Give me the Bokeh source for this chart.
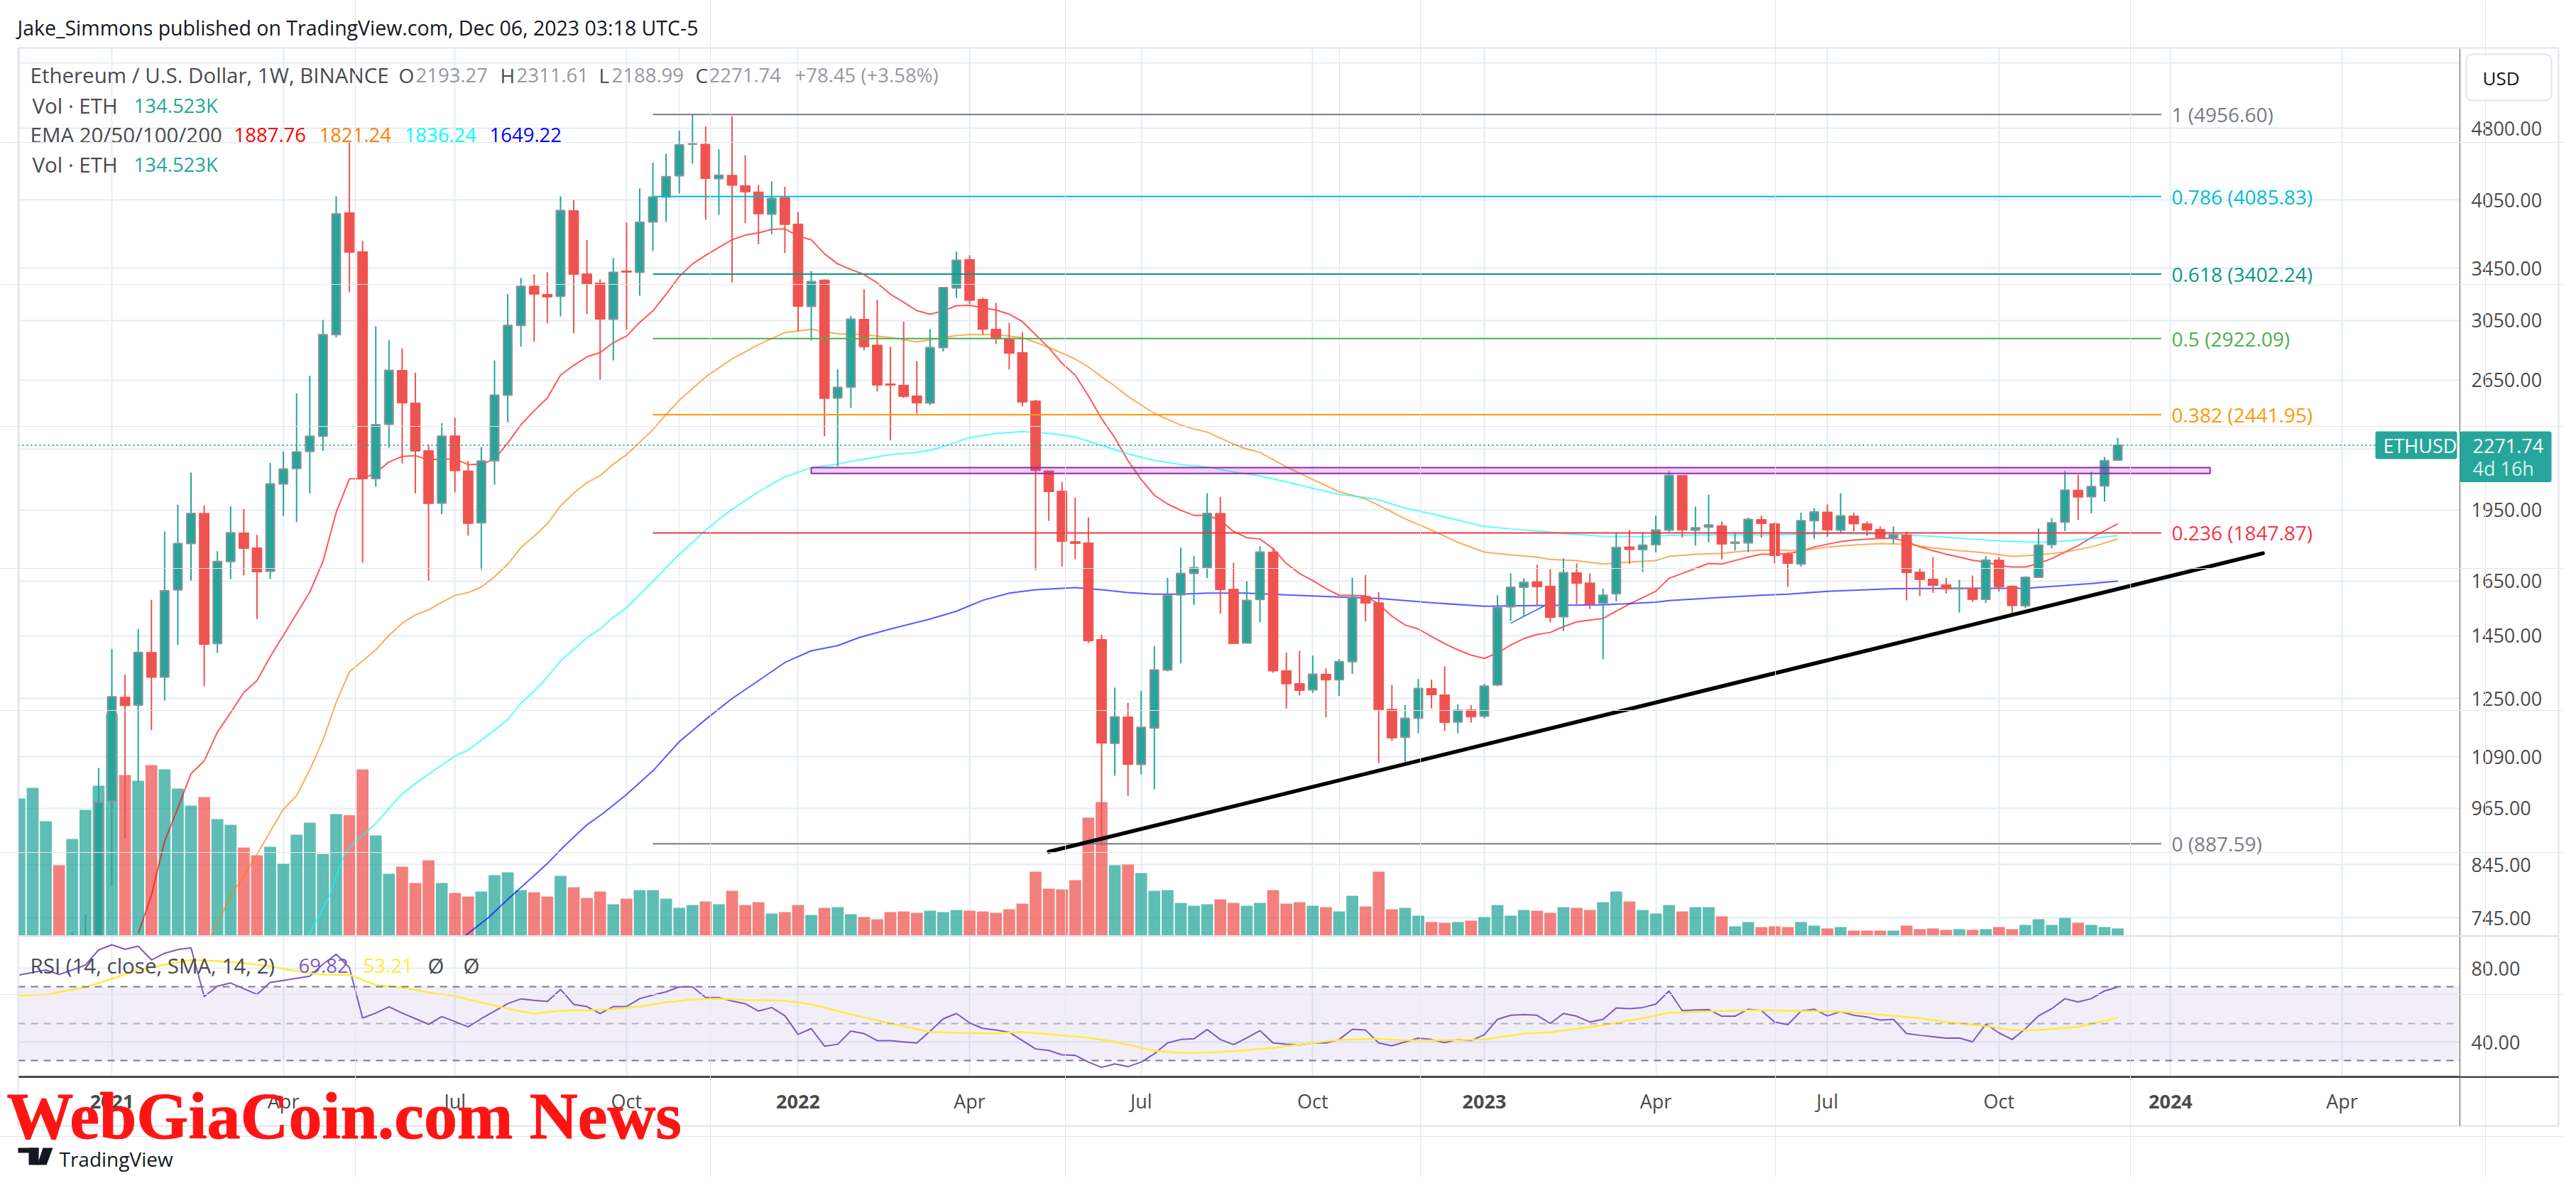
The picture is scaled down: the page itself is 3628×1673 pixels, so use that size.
from math import exp
from bokeh.plotting import figure
from bokeh.layouts import column
from bokeh.embed import file_html
from bokeh.resources import INLINE
from bokeh.models import (BoxAnnotation, ColumnDataSource, FixedTicker, Grid, Label, LinearScale,
                          NumeralTickFormatter, PolyAnnotation, Range1d, Span)

opens = [560,590,615,650,610,690,705,982,1254,1231,
 1394,1315,1615,1802,1935,1423,1727,1848,1784,1688,
 2074,2151,2239,2321,2949,3932,3587,2100,2387,2711,
 2510,2243,1982,2323,2139,1892,2191,2557,3014,3307,
 3244,3229,3952,3404,3332,3059,3428,3417,3848,4080,
 4290,4622,4622,4262,4295,4192,4130,3919,4073,3829,
 3153,3355,2540,2606,3059,2878,2626,2618,2553,2510,
 2860,3293,3521,3206,2988,2924,2827,2522,2139,2039,
 1810,1805,1437,1125,1197,1070,1166,1337,1596,1679,
 1702,1935,1618,1425,1579,1766,1335,1295,1276,1324,
 1307,1364,1591,1567,1219,1141,1193,1280,1261,1183,
 1217,1199,1291,1552,1625,1647,1630,1516,1682,1642,
 1565,1601,1788,1776,1797,1860,2116,1860,1873,1879,
 1803,1805,1907,1888,1757,1717,1902,1941,1860,1923,
 1888,1863,1827,1839,1685,1657,1635,1619,1622,1580,
 1733,1630,1556,1664,1797,1895,2044,2012,2064,2193.27]
highs = [630,640,675,680,720,751,1061,1405,1322,1473,
 1578,1854,1975,2130,1972,1770,1967,1955,1839,2180,
 2239,2568,2677,3054,4087,4642,3679,3008,2911,2855,
 2696,2275,2394,2424,2188,2263,2775,3244,3372,3400,
 3417,4087,4052,3688,3361,3533,3841,4164,4425,4519,
 4769,4952,4820,4565,4937,4504,4198,4233,4180,3939,
 3427,3360,2718,3082,3283,3202,2866,3041,2771,2988,
 3299,3587,3556,3217,3179,3033,2967,2529,2139,2084,
 2009,1916,1452,1283,1238,1273,1415,1662,1785,1750,
 2029,2012,1722,1648,1790,1785,1394,1399,1383,1342,
 1371,1662,1673,1607,1291,1231,1309,1307,1349,1233,
 1231,1294,1595,1679,1660,1714,1696,1739,1719,1679,
 1620,1848,1860,1848,1925,2137,2118,1966,2022,1898,
 1848,1916,1925,1893,1765,1938,1959,1976,2029,1938,
 1898,1876,1876,1854,1699,1745,1662,1654,1671,1750,
 1745,1632,1668,1867,1913,2137,2118,2134,2210,2311.61]
lows = [540,565,600,570,590,660,690,804,899,1026,
 1160,1244,1419,1651,1287,1392,1657,1671,1508,1657,
 1923,1895,2029,2243,2929,3260,1722,2060,2260,2177,
 2029,1651,1931,2033,1836,1693,2070,2399,2867,2899,
 3029,3079,2958,3095,2653,2775,2983,3233,3593,3848,
 4115,4415,3867,3913,3337,3838,3650,3738,3575,2972,
 2909,2321,2162,2480,2841,2579,2299,2540,2449,2498,
 2835,3217,3169,2949,2885,2716,2490,1693,1901,1707,
 1737,1425,884,1042,994,1045,1009,1333,1358,1559,
 1661,1527,1423,1425,1496,1328,1221,1259,1267,1195,
 1258,1325,1500,1074,1131,1077,1152,1221,1158,1152,
 1181,1193,1287,1501,1518,1557,1496,1466,1557,1544,
 1372,1572,1717,1685,1765,1851,1827,1793,1807,1736,
 1772,1765,1827,1719,1627,1706,1821,1831,1848,1854,
 1834,1821,1802,1576,1592,1604,1601,1531,1570,1566,
 1609,1526,1547,1661,1781,1856,1905,1935,1989,2188.99]
closes = [590,615,650,610,690,705,979,1255,1229,1394,
 1314,1612,1802,1935,1420,1727,1848,1781,1685,2074,
 2148,2236,2321,2949,3921,3581,2099,2385,2711,2510,
 2241,1980,2321,2139,1889,2189,2557,3014,3305,3244,
 3223,3952,3400,3326,3059,3417,3417,3845,4080,4282,
 4614,4626,4262,4295,4194,4130,3921,4067,3824,3153,
 3343,2537,2604,3059,2866,2618,2618,2549,2510,2860,
 3296,3515,3197,2986,2919,2822,2515,2140,2036,1810,
 1802,1432,1125,1197,1070,1168,1337,1595,1679,1702,
 1935,1616,1423,1576,1766,1334,1294,1274,1324,1306,
 1364,1588,1565,1218,1139,1193,1280,1261,1181,1216,
 1197,1287,1549,1625,1644,1627,1513,1682,1640,1562,
 1595,1785,1776,1795,1860,2116,1860,1870,1883,1799,
 1808,1907,1888,1751,1719,1902,1941,1860,1923,1887,
 1860,1827,1839,1682,1655,1632,1618,1621,1579,1733,
 1627,1556,1664,1795,1892,2044,2010,2061,2191,2271.74]
volumes_k = [2596,2798,2165,1332,1829,2381,2838,4196,3040,2932,
 3228,3147,2784,2461,2623,2206,2098,1668,1520,1681,
 1358,1910,2139,1547,2300,2280,3147,1896,1170,1305,
 995,1426,995,807,740,834,1143,1197,861,820,
 740,1130,915,713,834,592,699,861,861,699,
 525,578,646,592,847,578,632,417,444,578,
 390,525,538,404,350,309,444,457,430,471,
 444,484,471,457,430,498,605,1211,888,874,
 1049,2233,2529,1332,1345,1184,847,861,619,565,
 592,686,619,565,619,861,605,632,565,538,
 457,753,551,1211,498,525,377,256,242,256,
 282,350,578,377,484,471,430,538,525,484,
 632,834,646,484,417,578,457,538,538,363,
 175,256,161,175,161,256,188,135,161,94,
 94,94,94,188,121,135,108,121,108,121,
 161,121,202,309,202,336,242,202,161,134.523]

ema20_x = list(range(9, 160))
ema20 = [718,786,893,965,1047,1079,1155,1209,1268,1304,1380,1451,1527,1607,1727,1939,2099,2099,2130,2184,
 2213,2217,2195,2199,2199,2171,2173,2199,2284,2385,2464,2540,2681,2743,2799,2827,2894,2939,3036,3119,
 3244,3383,3485,3556,3623,3689,3730,3749,3781,3785,3722,3689,3569,3485,3440,3399,3332,3244,3184,3121,
 3095,3119,3158,3160,3142,3126,3095,3041,2949,2860,2757,2681,2553,2419,2313,2191,2096,2019,1978,1949,
 1926,1926,1904,1854,1827,1821,1780,1719,1679,1651,1620,1595,1595,1592,1562,1518,1487,1473,1447,1423,
 1402,1385,1374,1392,1418,1440,1454,1461,1481,1498,1504,1510,1536,1562,1586,1610,1660,1679,1699,1719,
 1717,1731,1745,1757,1757,1760,1769,1787,1799,1810,1817,1821,1824,1824,1810,1788,1772,1757,1745,1732,
 1725,1711,1705,1705,1719,1739,1766,1793,1827,1857,1887.76]
ema50_x = [14.5,15,16,17,18,19,20,21,22,23,24,25,26,27,28,29,30,31,32,33,34,35,36,37,38,39,40,41,42,43,44,45,46,47,48,49,50,
 52,54,56,58,60,62,64,66,68,71,72,74,76,78,80,81,82,83,84,86,88,89,90,92,93,94,96,98,100,102,103,105,107,109,111,113,115,116,118,120,122,124,125,127,129,131,133,135,137,139,141,143,145,147,149,151,153,155,157,159]
ema50 = [714,735,785,822,865,913,963,994,1057,1133,1239,1331,1366,1402,1451,1493,1523,1541,1569,1594,1605,1626,1666,1716,1785,1833,1888,1969,2029,2080,2115,2173,2222,2288,2357,2443,2526,
 2670,2785,2880,2964,2987,2956,2950,2929,2899,2943,2950,2950,2929,2862,2785,2733,2670,2613,2549,2449,2383,2361,2344,2278,2252,2234,2159,2096,2036,2002,1972,1910,1860,1807,1766,1754,1745,1736,1731,1717,1725,1731,1748,1757,1761,1772,1775,1772,1787,1796,1802,1799,1784,1772,1763,1748,1754,1766,1787,1821.24]
ema100_x = [21.9,23.5,24.5,25,27,28.85,30,31,33,34,35,36,37,38,39,40,41,42,43,44,45,46,47,48,49,50,51,52,53,54,56,58,60,62,64,66,68,69,70,72,74,76,78,80,82,84,86,88,90,92,94,96,98,100,102,103,105,107,109,111,113,115,117,120,123,125,128,133,137,141,143,145,148,151,153,155,157,159]
ema100 = [714,785,857,880,931,994,1023,1046,1091,1107,1133,1160,1190,1236,1272,1315,1366,1404,1443,1473,1514,1549,1598,1648,1702,1757,1807,1860,1907,1953,2036,2109,2155,2173,2199,2222,2234,2245,2265,2313,2336,2347,2337,2317,2271,2226,2193,2171,2159,2134,2113,2084,2052,2023,2009,1997,1959,1933,1904,1876,1865,1856,1845,1833,1831,1837,1839,1839,1845,1842,1839,1833,1821,1810,1807,1812,1824,1836.24]
ema200_x = [33.75,35.5,36.9,38.6,40,41.3,43,44.2,45.9,48,50,52,54,56,58,60,62,63.6,66,69,71,73,75,77,80,82,84,86,88,90,93,96,100,103,107,111,115,120,124,125,128.8,132,134,137,142,147,152,155,157,159]
ema200 = [714,745,776,814,847,883,928,953,994,1054,1129,1190,1250,1304,1361,1399,1416,1443,1473,1508,1536,1576,1603,1616,1624,1616,1605,1599,1599,1603,1603,1596,1588,1583,1567,1554,1557,1559,1569,1575,1586,1595,1599,1610,1620,1621,1621,1632,1640,1649.22]

rsi = [76.35,77.7,79.05,76.6,79.05,81.75,89.9,92.7,90.3,91.9,84.5,88.1,90.1,91.1,64.6,70.3,72,68.9,65.8,72.3,
 73.4,74.5,75.7,82.2,87.6,80.4,53,55.7,59.1,55.7,52.7,49.6,53.8,51.1,48.2,52.7,56.8,60.8,63.4,62.6,
 62,68.5,60.4,59.2,55.4,59.2,59.2,63.5,65.5,67.2,69.9,69.9,64.1,64.1,62.2,60.8,56.8,58.7,54.3,44.2,
 47.3,37.8,38.8,46,44.6,40.8,40.8,40.1,39.5,45.9,52.6,55.5,50.4,47.4,46.5,45.3,40.8,36.3,35.5,33.1,
 32.8,29.2,26.3,28.2,26.7,29.2,33.7,39.5,41.4,41.8,46.8,41.4,38.6,42.3,46.2,39.5,38.8,38.5,39.5,39.5,
 41.4,46.9,46.5,39.5,38,40.1,42.1,41.4,39.7,41.4,40.8,44,52.3,54.5,54.9,54.5,50.1,55.5,54,50.9,
 52.3,58.5,58.1,58.7,60.6,67.7,57,57.4,57.6,54,54,57.8,57,50.9,49.4,56.8,57.8,54.2,56.5,54.5,
 53.6,51.9,52.3,44.6,43.7,42.9,42.1,42.2,40.1,49.7,45,41.4,47.2,54.2,58.1,63.5,61.7,63.5,67.7,69.82]
rsi_sma_x = [0,2,5,7,9,11,13,15,17,19,21,23,25,27,29,31,33,35,37,39,41,43,45,47,49,51,53,55,58,60,62,63.6,65,67,69,71,74,76,78,81,83,84,86,88,89,92,95,98,100,103,105,108,111,114,116,118,120,123,125,129,132,135,138,141,144,146,149,151,153,156,159]
rsi_sma = [65.1,65.8,69.6,74.3,79.1,81.8,84.5,83.8,82.8,81.1,78.4,76.5,76.4,70.9,69.6,66.9,64.9,61.5,58.1,55.4,57,57.2,57.8,59.2,61.5,63.1,63.5,62.8,62.4,60.5,56.8,54,51.7,48.5,45.5,45,44.7,45.5,44.2,42.4,40.1,38.6,35.3,34.1,34,35,36.9,39.5,41.2,41.8,41,41,41.4,44.6,45.3,47.2,49.1,52.9,55.9,56.8,57.3,56.8,56.5,54.9,52.9,50.9,48.7,46.5,46.5,48.2,53.21]

fib_levels = ["1", "0.786", "0.618", "0.5", "0.382", "0.236", "0"]
fib_prices = [4956.60, 4085.83, 3402.24, 2922.09, 2441.95, 1847.87, 887.59]
fib_colors = ["#787b86", "#00bcd4", "#089981", "#4caf50", "#ff9800", "#f23645", "#787b86"]
fib_x = [48, 162.3]
trend_x = [78, 170]
trend_y = [871, 1761]
short_x = [113, 115.8]
short_y = [1493, 1562]
zone_x = [60, 166]
zone_y = [2126, 2155]
last_close = 2271.74
price_ticks = [5600, 4800, 4050, 3450, 3050, 2650, 2250, 1950, 1650, 1450, 1250, 1090, 965, 845, 745]
time_ticks = [7, 20, 33, 46, 59, 72, 85, 98, 111, 124, 137, 150, 163, 176]
time_labels = ["2021", "Apr", "Jul", "Oct", "2022", "Apr", "Jul", "Oct", "2023", "Apr", "Jul", "Oct", "2024", "Apr"]

GREEN, RED = "#26a69a", "#ef5350"
GRID = "#e3edf3"
BORDER = "#e0e3eb"
FONT = "Open Sans"

# picture geometry (page pixels) -> data
STEP, X0 = 18.586, 26.9
def xd(px): return (px - X0) / STEP
def price(py): return 4800 * exp(-(py - 180) / 597)
def rv(py): return 80 - (py - 1363) / 2.6

W = 3612
p = figure(width=W, height=1318, x_range=Range1d(xd(25), xd(3464)),
           y_range=Range1d(price(1318), price(67)), y_axis_type="log", y_axis_location="right",
           x_axis_location=None, toolbar_location=None, output_backend="svg",
           min_border_top=67, min_border_left=25, min_border_right=W - 3464, min_border_bottom=0)
p.outline_line_color = None
p.background_fill_color = "white"
p.extra_y_ranges = {"vol": Range1d(-13.45, 1250 * 13.45)}
p.extra_y_scales = {"vol": LinearScale()}
ax = p.yaxis[0]
ax.ticker = FixedTicker(ticks=price_ticks)
ax.formatter = NumeralTickFormatter(format="0.00")
ax.major_label_overrides = {5600: "", 2250: ""}
ax.major_tick_line_color = None
ax.minor_tick_line_color = None
ax.axis_line_color = "#555555"
ax.major_label_text_font = FONT
ax.major_label_text_font_size = "27px"
ax.major_label_text_color = "#4a4a4a"
ax.major_label_standoff = 10
p.ygrid[0].grid_line_color = GRID
p.ygrid[0].grid_line_width = 2
p.add_layout(Grid(dimension=0, ticker=FixedTicker(ticks=time_ticks), grid_line_color=GRID, grid_line_width=2))

idx = list(range(len(closes)))
up = [c >= o for o, c in zip(opens, closes)]
def sub(cond):
    s = [i for i in idx if cond(i)]
    return ColumnDataSource(dict(x=s, o=[opens[i] for i in s], h=[highs[i] for i in s], l=[lows[i] for i in s],
                                 c=[closes[i] for i in s], v=[volumes_k[i] for i in s],
                                 t=[max(opens[i], closes[i]) for i in s], b=[min(opens[i], closes[i]) for i in s]))
su, sd = sub(lambda i: up[i]), sub(lambda i: not up[i])

p.vbar(x="x", top="v", bottom=0, width=0.9, source=su, fill_color=GREEN, fill_alpha=0.74, line_color=None, y_range_name="vol")
p.vbar(x="x", top="v", bottom=0, width=0.9, source=sd, fill_color=RED, fill_alpha=0.74, line_color=None, y_range_name="vol")

p.line(ema20_x, ema20, line_color="#ff0000", line_alpha=0.65, line_width=2)
p.line(ema50_x, ema50, line_color="#ff8000", line_alpha=0.65, line_width=2)
p.line(ema100_x, ema100, line_color="#00ffff", line_alpha=0.65, line_width=2)
p.line(ema200_x, ema200, line_color="#0000ff", line_alpha=0.65, line_width=2)
p.line(short_x, short_y, line_color="#2962ff", line_width=1.5)

p.segment(x0="x", x1="x", y0="l", y1="h", source=su, line_color=GREEN, line_width=2)
p.segment(x0="x", x1="x", y0="l", y1="h", source=sd, line_color=RED, line_width=2)
p.vbar(x="x", top="t", bottom="b", width=0.64, source=su, fill_color=GREEN, line_color="#8f9099", line_width=2)
p.vbar(x="x", top="t", bottom="b", width=0.74, source=sd, fill_color=RED, line_color=RED, line_width=1)

for lvl, pr, col in zip(fib_levels, fib_prices, fib_colors):
    p.line(fib_x, [pr, pr], line_color=col, line_width=2)
    p.add_layout(Label(x=xd(3058), y=pr, text=f"{lvl} ({pr:.2f})", text_color=col, text_font=FONT,
                       text_font_size="28px", text_baseline="middle"))

p.quad(left=zone_x[0], right=zone_x[1], bottom=zone_y[0], top=zone_y[1], fill_color="#9c27b0", fill_alpha=0.2,
       line_color="#9c27b0", line_width=2)
p.line(trend_x, trend_y, line_color="black", line_width=5.5, line_cap="round")
p.add_layout(Span(location=last_close, dimension="width", line_color=GREEN, line_dash="2 4", line_width=2))

def T(fig, txt, px, py, col, size=29.5, yf=price, bold=False, font=FONT, align="left"):
    fig.add_layout(Label(x=xd(px), y=yf(py), text=txt, text_color=col, text_font=font, text_font_size=f"{size}px",
                         text_baseline="middle", text_align=align, text_font_style="bold" if bold else "normal"))

DK, GY = "#4a4a4f", "#9598a1"
T(p, "Ethereum / U.S. Dollar, 1W, BINANCE", 42, 105, DK)
for txt, x, c, sz in [("O", 561, DK, 28), ("2193.27", 585, GY, 27.5), ("H", 704, DK, 28), ("2311.61", 727, GY, 27.5), ("L", 843, DK, 28),
                  ("2188.99", 861, GY, 27.5), ("C", 979, DK, 28), ("2271.74", 998, GY, 27.5), ("+78.45 (+3.58%)", 1119, GY, 27.5)]:
    T(p, txt, x, 105, c, sz)
T(p, "Vol · ETH", 45, 147.5, DK)
T(p, "134.523K", 188, 147.5, GREEN, 27.5)
T(p, "EMA 20/50/100/200", 42, 189, DK)
for txt, x, c in [("1887.76", 329, "#ff0000"), ("1821.24", 449, "#ff8000"), ("1836.24", 569, "#00ffff"), ("1649.22", 689, "#0000ff")]:
    T(p, txt, x, 189, c, 27.5)
T(p, "Vol · ETH", 45, 231, DK)
T(p, "134.523K", 188, 231, GREEN, 27.5)

# RSI pane with the time axis under it
q = figure(width=W, height=1657 - 1318, x_range=p.x_range, y_range=Range1d(rv(1516), rv(1318)), y_axis_location="right",
           toolbar_location=None, output_backend="svg", min_border_top=0, min_border_left=25, min_border_right=W - 3464,
           min_border_bottom=1657 - 1516)
q.outline_line_color = None
ay = q.yaxis[0]
ay.ticker = FixedTicker(ticks=[40, 80])
ay.formatter = NumeralTickFormatter(format="0.00")
ay.major_tick_line_color = None
ay.minor_tick_line_color = None
ay.axis_line_color = "#555555"
ay.major_label_text_font = FONT
ay.major_label_text_font_size = "27px"
ay.major_label_text_color = "#4a4a4a"
ay.major_label_standoff = 10
ax2 = q.xaxis[0]
ax2.ticker = FixedTicker(ticks=time_ticks)
ax2.major_label_overrides = {t: ("" if l.startswith("20") else l) for t, l in zip(time_ticks, time_labels)}
ax2.major_tick_line_color = None
ax2.minor_tick_line_color = None
ax2.axis_line_color = "#4a4a4a"
ax2.axis_line_width = 3
ax2.major_label_text_font = FONT
ax2.major_label_text_font_size = "27px"
ax2.major_label_text_color = "#4a4a4a"
ax2.major_label_standoff = 9
q.xgrid[0].grid_line_color = GRID
q.xgrid[0].grid_line_width = 2
q.ygrid[0].grid_line_color = GRID
q.ygrid[0].grid_line_width = 2

q.add_layout(BoxAnnotation(top=70, bottom=30, fill_color="#7e57c2", fill_alpha=0.1, line_alpha=0, level="underlay"))
for lv, a in [(70, 1), (50, 0.55), (30, 1)]:
    q.add_layout(Span(location=lv, dimension="width", line_color="#787b86", line_alpha=a, line_dash="10 8", line_width=2))
q.line(idx, rsi, line_color="#7e57c2", line_width=2)
q.line(rsi_sma_x, rsi_sma, line_color="#ffeb3b", line_width=2.5)

T(q, "RSI (14, close, SMA, 14, 2)", 42, 1359, DK, yf=rv)
T(q, "69.82", 420, 1359, "#7e57c2", 27.5, yf=rv)
T(q, "53.21", 511, 1359, "#ffeb3b", 27.5, yf=rv)
T(q, "Ø", 602, 1359, DK, yf=rv)
T(q, "Ø", 652, 1359, DK, yf=rv)

# transparent sheet over both panes, in page pixels: the texts and boxes that sit outside the plot frames
ov = figure(width=W, height=1657, x_range=Range1d(0, W), y_range=Range1d(1657, 0), x_axis_location=None,
            y_axis_location=None, toolbar_location=None, output_backend="svg", min_border=0,
            background_fill_alpha=0, border_fill_alpha=0, margin=(-1657, 0, 0, 0), frame_align=False)
ov.outline_line_color = None
def OT(txt, px, py, col, size=29, bold=False, font=FONT, align="left", outline=None):
    ov.add_layout(Label(x=px, y=py, text=txt, text_color=col, text_font=font, text_font_size=f"{size}px",
                        text_baseline="middle", text_align=align, text_font_style="bold" if bold else "normal",
                        text_outline_color=outline))
def OB(x0, x1, y0, y1, fill, line=None, radius=0):
    ov.add_layout(BoxAnnotation(left=x0, right=x1, top=y0, bottom=y1, fill_color=fill, fill_alpha=1,
                                line_color=line, line_alpha=1 if line else 0, line_width=2 if line else 0,
                                border_radius=radius))

OB(25, 3603, 66, 68, BORDER)
OB(24, 26, 67, 1585, BORDER)
OB(3602, 3604, 67, 1585, BORDER)
OB(25, 3464, 1316.5, 1319, BORDER)
OB(3464, 3603, 1316.5, 1319, BORDER)
OB(25, 3603, 1584, 1586, BORDER)
OB(3463.5, 3464.5, 1516, 1585, "#555555")
OB(3464, 3603, 1515, 1517.5, "#4a4a4a")

OT("Jake_Simmons published on TradingView.com, Dec 06, 2023 03:18 UTC-5", 24, 38.5, "#131722", 28.5)
OB(3473, 3593, 76, 141, "white", BORDER, radius=8)
OT("USD", 3496, 109, "#131722", 26)
OB(3345, 3460, 607, 646, GREEN, radius=3)
OB(3464, 3593, 607, 678.6, GREEN, radius=3)
OT("ETHUSD", 3356, 627, "white", 27)
OT("2271.74", 3482, 627, "white", 27)
OT("4d 16h", 3482, 659, "#d6f0ed", 27)

for t, l in zip(time_ticks, time_labels):
    if l.startswith("20"):
        OT(l, X0 + t * STEP, 1551, "#4a4a4a", 27, bold=True, align="center")

OT("WebGiaCoin.com News", 9, 1570, "#ff1414", 94, bold=True, font="Liberation Serif", outline="#ff1414")

OB(25, 54, 1616, 1623, "#131722")
OB(40, 54, 1616, 1640, "#131722")
ov.add_layout(PolyAnnotation(xs=[60, 74, 65, 52], ys=[1616, 1616, 1640, 1640], fill_color="#131722", fill_alpha=1, line_alpha=0))
OT("TradingView", 83, 1631, "#131722", 28)

open("out.html", "w").write(file_html(column(p, q, ov, spacing=0), INLINE))
